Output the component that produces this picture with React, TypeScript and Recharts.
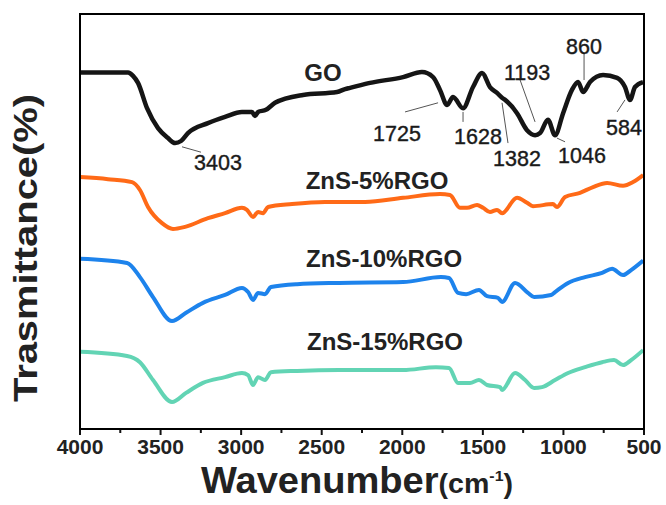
import React from 'react';
import {
  LineChart,
  Line,
  XAxis,
  YAxis,
  ReferenceLine,
  ReferenceDot,
  Label,
} from 'recharts';

// FTIR spectra, transmittance (offset per sample)
const goWavenumber = [4000, 3702, 3671, 3640, 3584, 3516, 3454, 3410, 3373, 3330, 3206, 3100, 2995, 2933, 2914, 2895, 2846, 2790, 2616, 2405, 2355, 2324, 2200, 1995, 1878, 1809, 1766, 1722, 1685, 1623, 1561, 1505, 1456, 1412, 1381, 1362, 1288, 1226, 1176, 1145, 1096, 1052, 1002, 947, 909, 878, 835, 754, 667, 618, 587, 556, 506];
const goTransmittance = [85.9, 85.9, 85.1, 83.4, 77.3, 72.5, 70.1, 68.9, 69.4, 71.3, 73.7, 75.2, 76.4, 76.4, 75.4, 76.4, 76.9, 78.6, 80.5, 81.2, 81.9, 82.2, 83.4, 84.8, 86.0, 84.8, 81.7, 78.1, 80.0, 77.3, 82.4, 85.8, 82.4, 81.0, 79.8, 79.3, 76.1, 72.0, 70.8, 71.3, 74.5, 70.8, 76.1, 81.7, 83.6, 81.2, 83.6, 85.3, 84.6, 82.4, 79.3, 82.4, 83.6];

const zns5Wavenumber = [4000, 3826, 3677, 3628, 3578, 3491, 3423, 3348, 3206, 3100, 2995, 2964, 2926, 2895, 2864, 2833, 2684, 2480, 2231, 1995, 1766, 1704, 1642, 1598, 1536, 1499, 1456, 1412, 1381, 1288, 1226, 1189, 1065, 1040, 990, 897, 816, 729, 630, 568, 505];
const zns5Transmittance = [60.7, 60.2, 59.5, 57.6, 53.5, 49.6, 48.2, 48.7, 50.8, 52.0, 53.3, 52.8, 51.1, 52.3, 52.0, 53.5, 54.2, 54.7, 54.7, 55.7, 56.6, 56.4, 53.3, 53.3, 54.0, 53.3, 52.3, 52.8, 52.0, 55.7, 54.5, 53.7, 54.2, 53.5, 55.9, 56.9, 58.3, 59.3, 58.6, 59.5, 61.2];

const zns10Wavenumber = [4000, 3708, 3628, 3547, 3429, 3342, 3237, 3100, 2995, 2957, 2926, 2895, 2852, 2815, 2653, 2393, 1995, 1760, 1710, 1654, 1604, 1524, 1474, 1406, 1381, 1300, 1220, 1182, 1077, 1052, 971, 866, 760, 698, 630, 580, 505];
const zns10Transmittance = [41.0, 40.0, 36.6, 31.8, 26.0, 28.0, 30.4, 32.3, 34.0, 33.0, 31.1, 32.8, 32.5, 34.2, 34.9, 35.2, 35.4, 36.6, 36.4, 32.8, 32.5, 33.5, 32.0, 31.6, 30.6, 35.2, 32.8, 31.8, 32.3, 33.0, 35.2, 36.6, 37.6, 38.6, 37.1, 38.3, 40.6];

const zns15Wavenumber = [4000, 3708, 3628, 3547, 3429, 3342, 3237, 3100, 2995, 2957, 2926, 2895, 2852, 2815, 2653, 2393, 1995, 1791, 1710, 1654, 1580, 1524, 1474, 1393, 1381, 1300, 1238, 1182, 1133, 1052, 971, 866, 760, 686, 630, 580, 505];
const zns15Transmittance = [18.6, 17.6, 16.1, 11.8, 6.5, 8.7, 11.1, 12.5, 13.5, 13.0, 10.6, 12.5, 11.8, 13.7, 14.0, 14.2, 14.2, 14.9, 14.7, 11.1, 11.1, 11.8, 10.6, 10.1, 9.4, 13.5, 11.8, 9.9, 10.1, 11.8, 13.5, 14.9, 16.1, 16.6, 15.4, 16.6, 19.0];

const xTicks = [4000, 3750, 3500, 3250, 3000, 2750, 2500, 2250, 2000, 1750, 1500, 1250, 1000, 750, 500];

// peak labels: text, label position, leader line start/end (all in data units)
const peakLabels = ['3403', '1725', '1628', '1382', '1193', '1046', '860', '584'];
const peakLabelX = [3144, 2033, 1530, 1288, 1226, 885, 872, 624];
const peakLabelY = [64.3, 71.2, 70.4, 65.3, 86.0, 66.0, 92.2, 72.6];
const leaderX1 = [3367, 1983, 1623, 1381, 1269, 1040, 872, 667];
const leaderY1 = [68.0, 76.4, 76.4, 78.6, 84.1, 70.1, 90.6, 76.4];
const leaderX2 = [3249, 1778, 1623, 1344, 1176, 990, 872, 618];
const leaderY2 = [66.7, 78.6, 74.0, 68.9, 74.0, 69.2, 84.1, 79.3];

const seriesNames = ['GO', 'ZnS-5%RGO', 'ZnS-10%RGO', 'ZnS-15%RGO'];
const seriesLabelX = [2492, 2157, 2113, 2107];
const seriesLabelY = [86.0, 59.8, 41.2, 21.0];

const FONT = '"Liberation Sans", Arial, sans-serif';
const AXIS = { stroke: '#111', strokeWidth: 2 };

const W = 666;
const H = 505;
const MARGIN = { top: 14, right: 22, bottom: 0, left: 80 };
const X_AXIS_H = 76;
const PLOT_W = W - MARGIN.left - MARGIN.right;
const PLOT_H = H - MARGIN.top - MARGIN.bottom - X_AXIS_H;

const zip = (xs: number[], ys: number[]) => xs.map((x, i) => ({ wn: x, t: ys[i] }));

const series = [
  { name: 'GO', data: zip(goWavenumber, goTransmittance), color: '#151515', width: 4.5 },
  { name: 'ZnS-5%RGO', data: zip(zns5Wavenumber, zns5Transmittance), color: '#FF6A17', width: 4 },
  { name: 'ZnS-10%RGO', data: zip(zns10Wavenumber, zns10Transmittance), color: '#1D83EC', width: 4 },
  { name: 'ZnS-15%RGO', data: zip(zns15Wavenumber, zns15Transmittance), color: '#62D4B4', width: 4 },
];

function WaveTick(props: any) {
  const { x, y, payload } = props;
  const major = payload.value % 500 === 0;
  return (
    <g>
      <line x1={x} x2={x} y1={y} y2={y + (major ? 6 : 4)} stroke="#111" strokeWidth={2} />
      {major && (
        <text x={x} y={y + 25} textAnchor="middle" fontFamily={FONT} fontSize={21} fontWeight="bold" fill="#222">
          {payload.value}
        </text>
      )}
    </g>
  );
}

export default function App() {
  return (
    <div style={{ position: 'absolute', left: 0, top: 0, width: W, height: H, background: '#fff' }}>
      <LineChart width={W} height={H} margin={MARGIN}>
        <XAxis
          dataKey="wn"
          type="number"
          domain={[500, 4000]}
          reversed
          ticks={xTicks}
          interval={0}
          allowDataOverflow
          axisLine={AXIS}
          tickLine={false}
          tickSize={0}
          tickMargin={0}
          height={X_AXIS_H}
          tick={<WaveTick />}
        >
          <Label
            content={(p: any) => {
              const vb = p.viewBox;
              return (
                <text
                  x={vb.x + vb.width / 2 - 5}
                  y={vb.y + 64}
                  textAnchor="middle"
                  fontFamily={FONT}
                  fontWeight="bold"
                  fill="#222"
                  textLength={312}
                  lengthAdjust="spacingAndGlyphs"
                >
                  <tspan fontSize={36}>Wavenumber</tspan>
                  <tspan fontSize={27}>(cm</tspan>
                  <tspan fontSize={15} dy={-12}>-1</tspan>
                  <tspan fontSize={27} dy={12}>)</tspan>
                </text>
              );
            }}
          />
        </XAxis>
        <YAxis type="number" domain={[0, 100]} width={0} tick={false} axisLine={false} tickLine={false} allowDataOverflow />
        {peakLabels.map((_, i) => (
          <ReferenceLine
            key={'lead' + i}
            segment={[
              { x: leaderX1[i], y: leaderY1[i] },
              { x: leaderX2[i], y: leaderY2[i] },
            ]}
            stroke="#555"
            strokeWidth={1}
          />
        ))}
        {series.map((s) => (
          <Line
            key={s.name}
            data={s.data}
            dataKey="t"
            type="monotone"
            stroke={s.color}
            strokeWidth={s.width}
            dot={false}
            activeDot={false}
            isAnimationActive={false}
          />
        ))}
        {peakLabels.map((txt, i) => (
          <ReferenceDot
            key={'pk' + i}
            x={peakLabelX[i]}
            y={peakLabelY[i]}
            r={0}
            ifOverflow="visible"
            shape={(p: any) => (
              <text x={p.cx} y={p.cy} dy={7.5} textAnchor="middle" fontFamily={FONT} fontSize={21.5} fill="#1a1a1a" stroke="#1a1a1a" strokeWidth={0.4}>
                {txt}
              </text>
            )}
          />
        ))}
        {seriesNames.map((txt, i) => (
          <ReferenceDot
            key={'sn' + i}
            x={seriesLabelX[i]}
            y={seriesLabelY[i]}
            r={0}
            ifOverflow="visible"
            shape={(p: any) => (
              <text x={p.cx} y={p.cy} dy={8.5} textAnchor="middle" fontFamily={FONT} fontSize={24} fontWeight="bold" fill="#222">
                {txt}
              </text>
            )}
          />
        ))}
      </LineChart>
      {/* plot frame */}
      <div
        style={{
          position: 'absolute',
          left: MARGIN.left - 1,
          top: MARGIN.top - 1,
          width: PLOT_W + 2,
          height: PLOT_H + 2,
          border: '2px solid #000',
          boxSizing: 'border-box',
          pointerEvents: 'none',
        }}
      />
      <svg width={W} height={H} style={{ position: 'absolute', left: 0, top: 0, pointerEvents: 'none' }}>
        <text
          x={37}
          y={248}
          transform="rotate(-90 37 248)"
          textAnchor="middle"
          fontFamily={FONT}
          fontSize={34}
          fontWeight="bold"
          fill="#222"
          textLength={308}
          lengthAdjust="spacingAndGlyphs"
        >
          Trasmittance(%)
        </text>
      </svg>
    </div>
  );
}
